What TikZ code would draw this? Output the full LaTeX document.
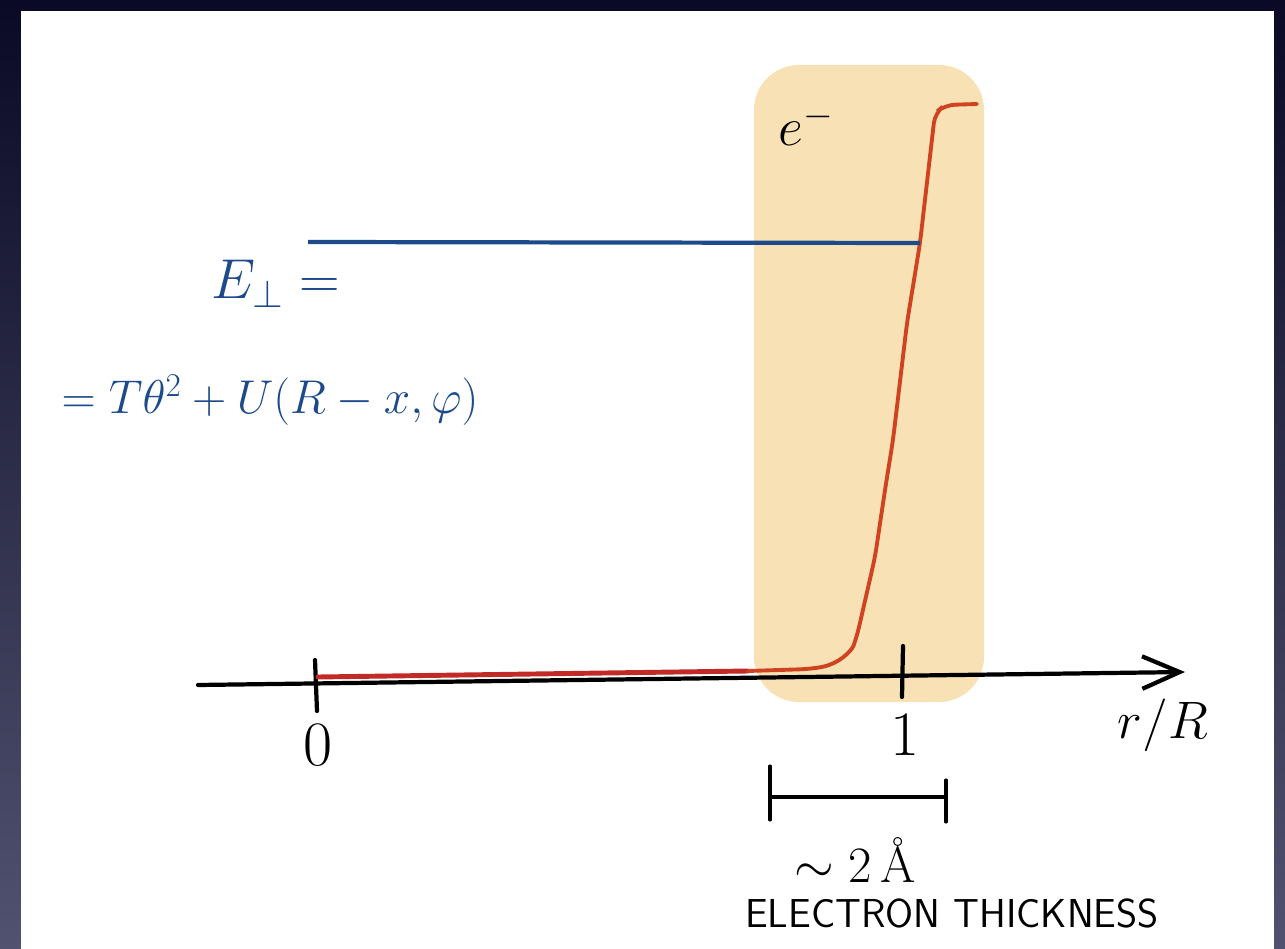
\RequirePackage{fix-cm}
\documentclass[tikz,border=0pt]{standalone}
\usepackage{tikz}
\usepackage{xcolor}
\definecolor{slideTop}{HTML}{0A0A26}
\definecolor{slideBottom}{HTML}{51526F}
\definecolor{vizBand}{HTML}{F8E1B4}
\definecolor{vizBlue}{HTML}{1D4A8A}
\definecolor{vizRed}{HTML}{C22A28}
\definecolor{vizOrange}{HTML}{CF4320}
\usetikzlibrary{arrows.meta}

\tikzset{
  axisline/.style={line width=2.4pt, line cap=round},
  bigtext/.style={font=\fontsize{36}{42}\selectfont, inner sep=0pt},
  smalltext/.style={font=\fontsize{23}{27}\selectfont\sffamily, inner sep=0pt}
}

\begin{document}
\begin{tikzpicture}[x=0.02cm, y=-0.02cm]
  % slide and background
  \shade[top color=slideTop, bottom color=slideBottom] (0,0) rectangle (1285,949);
  \filldraw[fill=white, draw=none] (21,11) rectangle (1274,949);
  \filldraw[fill=vizBand, draw=none, rounded corners=0.9cm] (754,65) rectangle (984,702);

  % axis
  \coordinate (axL) at (198,685);
  \coordinate (axR) at (1185,672);
  \draw[axisline, -{Straight Barb[length=0.75cm, width=0.65cm, line width=2.4pt]}] (axL) -- (axR);
  \coordinate (t0a) at (315,660);
  \coordinate (t0b) at (317,711);
  \coordinate (t1a) at (903,646);
  \coordinate (t1b) at (902,697);
  \draw[axisline] (t0a) -- (t0b);
  \draw[axisline] (t1a) -- (t1b);
  \node[bigtext] (zero) at (318,745) {$0$};
  \node[bigtext] (one) at (905,735) {$1$};
  \node[bigtext, font=\fontsize{30}{36}\selectfont] (ratio) at (1163,725) {$r/R$};

  % potential
  \coordinate (p0) at (318,677);
  \coordinate (p1) at (748,671);
  \coordinate (p2) at (935,113);
  \coordinate (p3) at (977,104);
  \draw[vizRed, line width=2.8pt, line cap=round] (p0) -- (p1);
  \draw[vizOrange, line width=2.2pt, line cap=round, rounded corners=0.2cm]
    (p1) -- (810,669) .. controls (840,664) and (852,650) .. (857,636)
    -- (875,557) -- (885,490) -- (893,440) -- (907,323) -- (920,243) -- (p2)
    -- (945,105) -- (p3);

  % energy level
  \coordinate (eL) at (308,242);
  \coordinate (eR) at (920,243);
  \draw[vizBlue, line width=2.4pt] (eL) -- (eR);
  \node[bigtext, text=vizBlue, font=\fontsize{32}{38}\selectfont] (eperp) at (276,284) {$E_\perp =$};
  \node[bigtext, text=vizBlue, font=\fontsize{27}{32}\selectfont] (eform) at (270,400) {$=T\theta^2+U(R-x,\varphi)$};
  \node[bigtext, font=\fontsize{31}{36}\selectfont] (elec) at (806,125) {$e^-$};

  % thickness bar
  \coordinate (bL) at (770,797);
  \coordinate (bR) at (946,797);
  \draw[axisline, line width=1.8pt] (770,766) -- (770,820);
  \draw[axisline, line width=1.8pt] (946,780) -- (946,822);
  \draw[axisline, line width=1.8pt] (bL) -- (bR);
  \node[bigtext, font=\fontsize{29}{34}\selectfont] (width) at (855,860) {$\sim 2\,$Å};
  \node[smalltext] (thick) at (952,913) {ELECTRON THICKNESS};
\end{tikzpicture}
\end{document}
